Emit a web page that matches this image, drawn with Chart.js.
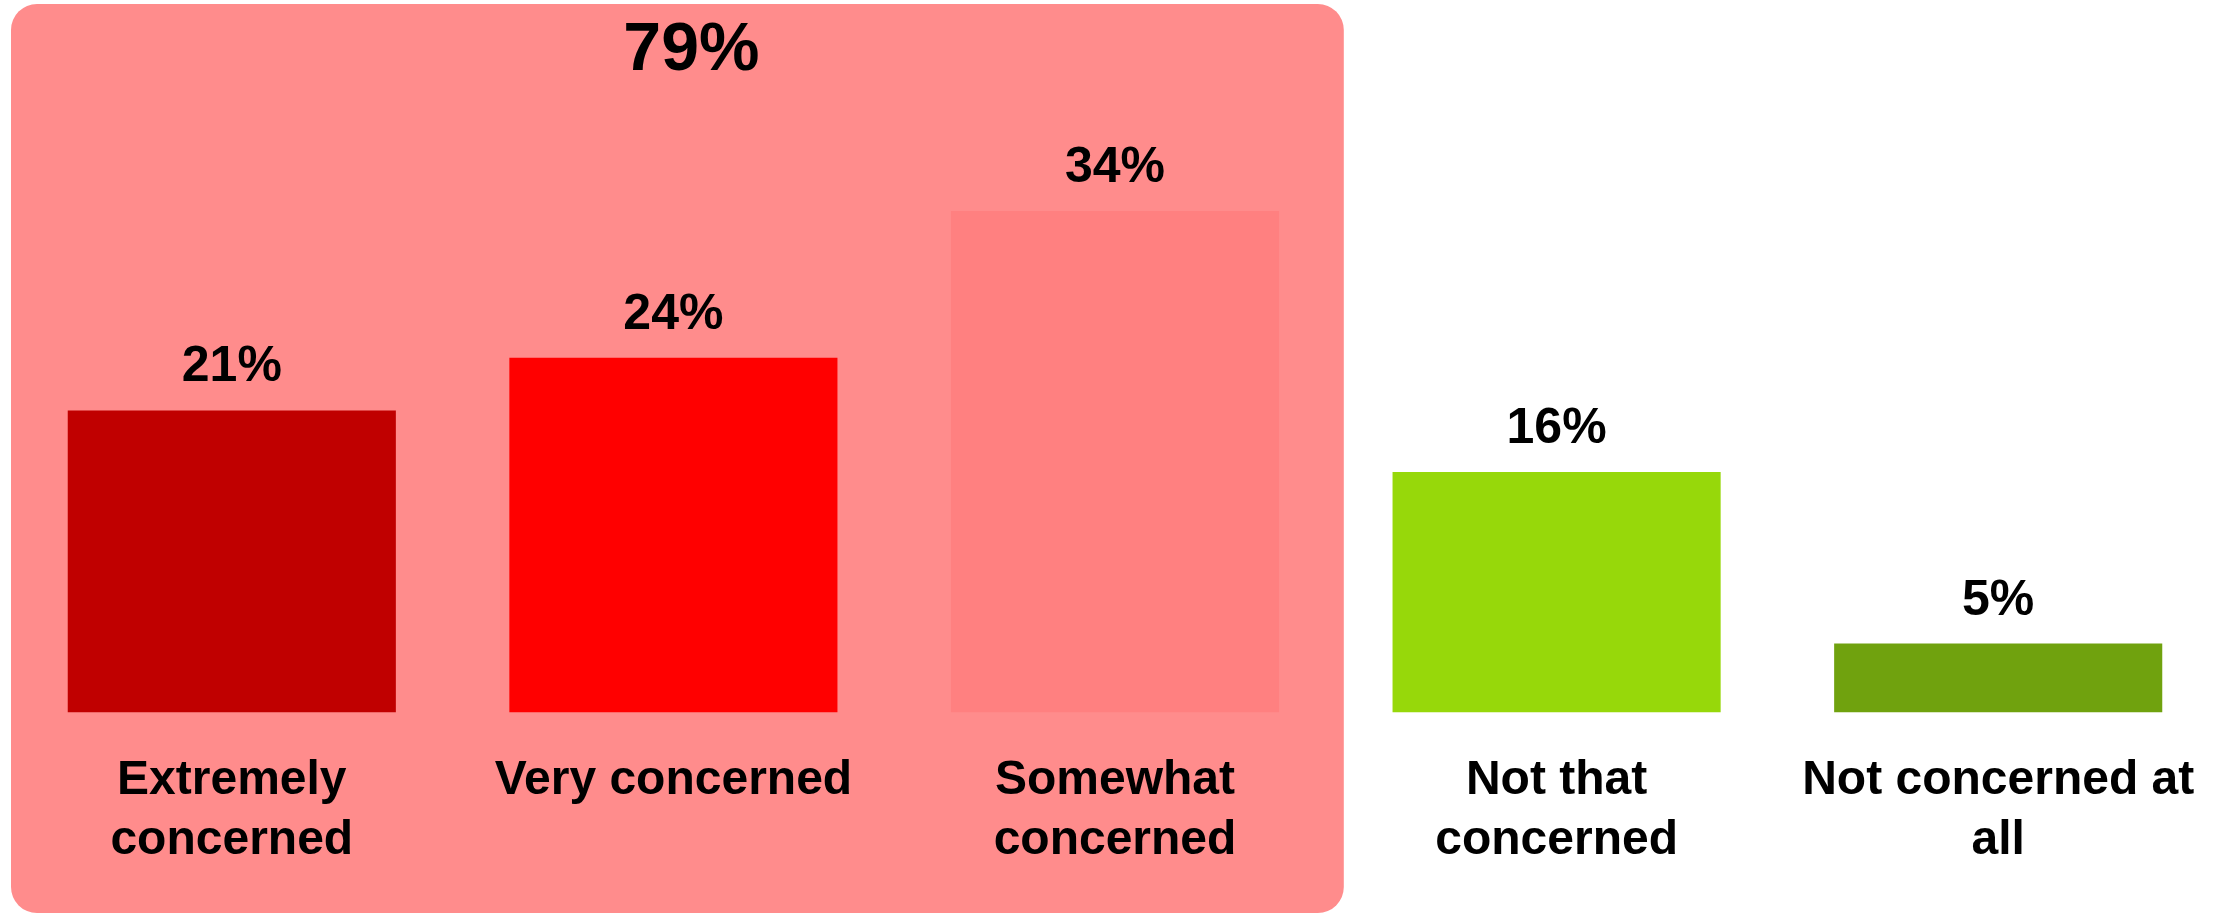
<!DOCTYPE html>
<html>
<head>
<meta charset="utf-8">
<script src="https://cdn.jsdelivr.net/npm/chart.js@4.4.1/dist/chart.umd.min.js"></script>
<style>
  html, body { margin: 0; padding: 0; background: #fff; }
  #wrap { width: 2224px; height: 914px; position: relative; }
</style>
</head>
<body>
<div id="wrap"><canvas id="concernChart"></canvas></div>
<script>
// survey answers (bar heights)
var categories = [
  ['Extremely', 'concerned'],
  'Very concerned',
  ['Somewhat', 'concerned'],
  ['Not that', 'concerned'],
  ['Not concerned at', 'all']
];
var shares = [20.6, 24.2, 34.2, 16.4, 4.7];
var barColors = ['#C00000', '#FF0000', '#FF8080', '#97D80A', '#70A20E'];
// answers that sit inside the pink box and add up to its total
var concernedGroup = [0, 1, 2];

var FONT = '"Liberation Sans", Arial, sans-serif';

var groupTotal = 0;
concernedGroup.forEach(function (i) { groupTotal += shares[i]; });

var boxPlugin = {
  id: 'concernBox',
  boxEdges: function (chart) {
    var x = chart.scales.x;
    var step = x.getPixelForValue(1) - x.getPixelForValue(0);
    var last = concernedGroup[concernedGroup.length - 1];
    return {
      left: chart.chartArea.left,
      right: x.getPixelForValue(last) + step / 2 + 8
    };
  },
  beforeDraw: function (chart) {
    var ctx = chart.ctx;
    var e = this.boxEdges(chart);
    ctx.save();
    ctx.fillStyle = '#FF8C8C';
    ctx.beginPath();
    ctx.roundRect(e.left, 4, e.right - e.left, 909, 26);
    ctx.fill();
    ctx.restore();
  },
  afterDatasetsDraw: function (chart) {
    var ctx = chart.ctx;
    var meta = chart.getDatasetMeta(0);
    var e = this.boxEdges(chart);
    ctx.save();
    ctx.fillStyle = '#000';
    ctx.textAlign = 'center';
    ctx.textBaseline = 'alphabetic';
    ctx.font = 'bold 50px ' + FONT;
    meta.data.forEach(function (bar, i) {
      ctx.fillText(Math.round(shares[i]) + '%', bar.x, bar.y - 29);
    });
    ctx.font = 'bold 68px ' + FONT;
    ctx.fillText(Math.round(groupTotal) + '%', (e.left + e.right) / 2 + 14, 70);
    ctx.restore();
  }
};

var concernChart = new Chart(document.getElementById('concernChart'), {
  type: 'bar',
  data: {
    labels: categories,
    datasets: [{
      data: shares,
      backgroundColor: barColors,
      borderWidth: 0,
      barPercentage: 0.743,
      categoryPercentage: 1
    }]
  },
  options: {
    responsive: true,
    maintainAspectRatio: false,
    animation: false,
    layout: { padding: { left: 11, right: 5, top: 126, bottom: 5 } },
    plugins: {
      legend: { display: false },
      tooltip: { enabled: false },
      title: { display: false }
    },
    scales: {
      x: {
        grid: { display: false, drawTicks: false },
        border: { display: false },
        afterFit: function (scale) {
          // labels fit inside their columns, no extra side room needed
          scale.paddingLeft = 0;
          scale.paddingRight = 0;
        },
        ticks: {
          color: '#000',
          padding: 39,
          maxRotation: 0,
          autoSkip: false,
          font: { family: FONT, size: 48, weight: 'bold', lineHeight: 1.234 }
        }
      },
      y: {
        display: false,
        min: 0,
        max: 40
      }
    }
  },
  plugins: [boxPlugin]
});
</script>
</body>
</html>
